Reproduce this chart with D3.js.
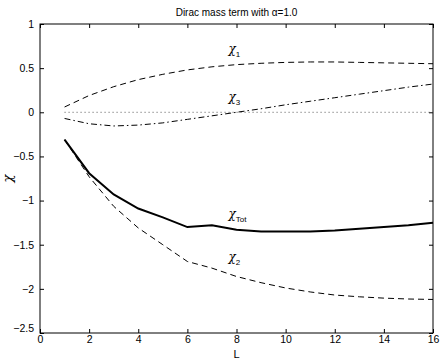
<!DOCTYPE html>
<html>
<head>
<meta charset="UTF-8">
<script src="https://d3js.org/d3.v7.min.js"></script>
<style>
  body { margin: 0; background: #fff; }
  svg { display: block; font-family: "Liberation Sans", Arial, sans-serif; }
</style>
</head>
<body>
<svg width="443" height="362"></svg>
<script>
// data
const L = [1, 2, 3, 4, 5, 6, 7, 8, 9, 10, 11, 12, 13, 14, 15, 16];
const chi1 = [0.06, 0.19, 0.29, 0.37, 0.43, 0.48, 0.515, 0.54, 0.555, 0.565, 0.57, 0.57, 0.565, 0.56, 0.555, 0.55];
const chi2 = [-0.31, -0.73, -1.065, -1.31, -1.50, -1.69, -1.765, -1.86, -1.93, -1.99, -2.035, -2.07, -2.09, -2.105, -2.115, -2.12];
const chi3 = [-0.07, -0.13, -0.155, -0.145, -0.12, -0.08, -0.04, 0.0, 0.04, 0.085, 0.125, 0.165, 0.205, 0.245, 0.285, 0.32];
const chiTot = [-0.31, -0.69, -0.93, -1.09, -1.19, -1.30, -1.28, -1.33, -1.35, -1.35, -1.35, -1.34, -1.32, -1.30, -1.28, -1.25];
const zero = L.map(() => 0);
const xTicks = [0, 2, 4, 6, 8, 10, 12, 14, 16];
const yTicks = [1, 0.5, 0, -0.5, -1, -1.5, -2, -2.5];

const svg = d3.select("svg");
const m = { left: 40, right: 10, top: 24, bottom: 29 };
const W = 443, H = 362;

const x = d3.scaleLinear().domain([0, 16]).range([m.left, W - m.right]);
const y = d3.scaleLinear().domain([-2.5, 1]).range([H - m.bottom, m.top]);

const fmt = d => d < 0 ? "\u2212" + Math.abs(d) : String(d);

// axes with inward ticks, on all four sides
svg.append("g").attr("transform", `translate(0,${y(-2.5)})`)
  .call(d3.axisBottom(x).tickValues(xTicks).tickSizeInner(-4).tickSizeOuter(0).tickPadding(3).tickFormat(fmt))
  .call(g => g.select(".domain").remove());
svg.append("g").attr("transform", `translate(0,${y(1)})`)
  .call(d3.axisTop(x).tickValues(xTicks).tickSizeInner(-4).tickSizeOuter(0).tickFormat(""))
  .call(g => g.select(".domain").remove());
svg.append("g").attr("transform", `translate(${x(0)},0)`)
  .call(d3.axisLeft(y).tickValues(yTicks).tickSizeInner(-4).tickSizeOuter(0).tickPadding(6).tickFormat(fmt))
  .call(g => g.select(".domain").remove());
svg.append("g").attr("transform", `translate(${x(16)},0)`)
  .call(d3.axisRight(y).tickValues(yTicks).tickSizeInner(-4).tickSizeOuter(0).tickFormat(""))
  .call(g => g.select(".domain").remove());

svg.selectAll(".tick text").attr("font-size", 10.5).attr("fill", "#000")
  .attr("font-family", "'Liberation Sans', Arial, sans-serif");
svg.selectAll(".tick line").attr("stroke", "#000");

// nudge the corner label like the original
svg.selectAll(".tick text").filter(d => d === -2.5).attr("dy", "-0.1em");

svg.append("rect")
  .attr("x", x(0)).attr("y", y(1))
  .attr("width", x(16) - x(0)).attr("height", y(-2.5) - y(1))
  .attr("fill", "none").attr("stroke", "#000").attr("stroke-width", 1);

const line = d3.line().x((d, i) => x(L[i])).y(d => y(d));

const series = [
  { v: zero, dash: "1,3", w: 1, c: "#555" },
  { v: chi1, dash: "6,4", w: 1, c: "#000" },
  { v: chi3, dash: "6,3,1.5,3", w: 1, c: "#000" },
  { v: chi2, dash: "6,4", w: 1, c: "#000" },
  { v: chiTot, dash: null, w: 2, c: "#000" }
];
series.forEach(s => {
  svg.append("path").attr("d", line(s.v))
    .attr("fill", "none").attr("stroke", s.c)
    .attr("stroke-width", s.w)
    .attr("stroke-dasharray", s.dash);
});

// curve labels
const labels = [
  { t: "1", xv: 8, yv: 0.67 },
  { t: "3", xv: 8, yv: 0.13 },
  { t: "Tot", xv: 8, yv: -1.2 },
  { t: "2", xv: 8, yv: -1.69 }
];
labels.forEach(l => {
  const tx = svg.append("text").attr("x", x(l.xv) - 8).attr("y", y(l.yv))
    .attr("font-size", 12).attr("font-family", "'DejaVu Serif', serif").attr("font-style", "italic");
  tx.append("tspan").text("\u03c7");
  tx.append("tspan").attr("dy", 4).attr("font-size", 8)
    .attr("font-family", "'Liberation Sans', Arial, sans-serif").attr("font-style", "normal").text(l.t);
});

// title and axis labels
svg.append("text").attr("x", (x(0) + x(16)) / 2).attr("y", 16)
  .attr("text-anchor", "middle").attr("font-size", 10).text("Dirac mass term with \u03b1=1.0");
svg.append("text").attr("x", (x(0) + x(16)) / 2).attr("y", 358)
  .attr("text-anchor", "middle").attr("font-size", 11).text("L");
svg.append("text").attr("transform", `translate(12,${y(-0.75)}) rotate(-90)`)
  .attr("text-anchor", "middle").attr("font-size", 13)
  .attr("font-family", "'DejaVu Serif', serif").attr("font-style", "italic").text("\u03c7");
</script>
</body>
</html>
